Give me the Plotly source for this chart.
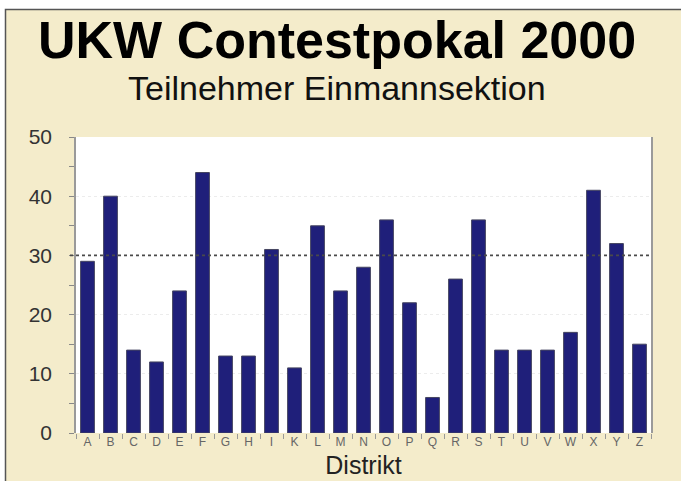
import plotly.graph_objects as go

# Teilnehmer je Distrikt (Einmannsektion)
distrikte = ["A", "B", "C", "D", "E", "F", "G", "H", "I", "K", "L", "M", "N",
             "O", "P", "Q", "R", "S", "T", "U", "V", "W", "X", "Y", "Z"]
teilnehmer = [29, 40, 14, 12, 24, 44, 13, 13, 31, 11, 35, 24, 28,
              36, 22, 6, 26, 36, 14, 14, 14, 17, 41, 32, 15]
y_ticks = [0, 10, 20, 30, 40, 50]
referenz_linie = 30

W, H = 681, 481
ML, MR, MT, MB = 76, 30, 137, 48
PW, PH = W - ML - MR, H - MT - MB

def px_x(px):
    return (px - ML) / PW

def px_y(py):
    return (H - MB - py) / PH

FONT = "Arial, Liberation Sans, sans-serif"
CREAM = "#f4eccb"

fig = go.Figure(go.Bar(
    x=distrikte,
    y=teilnehmer,
    marker=dict(color="#1f1f7a", line=dict(color="#454560", width=1)),
))

fig.update_layout(
    width=W, height=H,
    margin=dict(l=ML, r=MR, t=MT, b=MB),
    paper_bgcolor=CREAM,
    plot_bgcolor="white",
    bargap=0.4,
    showlegend=False,
    font=dict(family=FONT),
)

fig.update_xaxes(
    type="category", automargin=False,
    tickfont=dict(size=12, color="#666666"),
    ticks="outside", tickson="boundaries", ticklen=5, tickcolor="#999999",
    showgrid=False, showline=False, zeroline=False,
    title=dict(text="Distrikt", font=dict(size=25, color="#222222"), standoff=8),
)

fig.update_yaxes(
    range=[0, 50], tickvals=y_ticks, automargin=False,
    tickfont=dict(size=21, color="#333333"),
    ticks="", ticklabelstandoff=18,
    minor=dict(dtick=5, ticks="outside", ticklen=5, tickcolor="#888888", showgrid=False),
    showgrid=True, gridcolor="#ececec", griddash="dot",
    showline=True, linecolor="#9a9a9a", linewidth=1.5, mirror=True,
    zeroline=False,
)

# Reference line at 30 participants
fig.add_shape(type="line", xref="paper", yref="y",
              x0=px_x(70), x1=1, y0=referenz_linie, y1=referenz_linie,
              line=dict(color="#4a4a4a", width=1.8, dash="dot"))

# Outer frame: white margin strips and dark border on top and left
fig.add_shape(type="rect", xref="paper", yref="paper",
              x0=px_x(-2), x1=px_x(5.5), y0=px_y(H + 2), y1=px_y(-2),
              fillcolor="white", line=dict(width=0), layer="above")
fig.add_shape(type="rect", xref="paper", yref="paper",
              x0=px_x(-2), x1=px_x(W + 2), y0=px_y(9.5), y1=px_y(-2),
              fillcolor="white", line=dict(width=0), layer="above")
fig.add_shape(type="path", xref="paper", yref="paper",
              path=f"M {px_x(5.5)},{px_y(H + 2)} L {px_x(5.5)},{px_y(9.5)} L {px_x(W + 2)},{px_y(9.5)}",
              line=dict(color="#555555", width=1.5), layer="above")

# Title and subtitle
fig.add_annotation(xref="paper", yref="paper", x=px_x(337), y=px_y(40),
                   text="<b>UKW Contestpokal 2000</b>", showarrow=False,
                   xanchor="center", yanchor="middle",
                   font=dict(size=52, color="black", family=FONT))
fig.add_annotation(xref="paper", yref="paper", x=px_x(337), y=px_y(88),
                   text="Teilnehmer Einmannsektion", showarrow=False,
                   xanchor="center", yanchor="middle",
                   font=dict(size=34, color="#111111", family=FONT))

fig.write_html("out.html")
